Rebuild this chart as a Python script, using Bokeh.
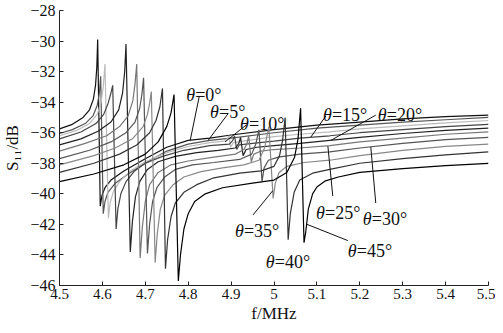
from bokeh.plotting import figure
from bokeh.models import FixedTicker, ColumnDataSource
from bokeh.core.properties import value
from bokeh.embed import file_html
from bokeh.resources import INLINE

# ---- ticks ----
x_ticks = [4.5, 4.6, 4.7, 4.8, 4.9, 5.0, 5.1, 5.2, 5.3, 5.4, 5.5]
x_tick_labels = ["4.5", "4.6", "4.7", "4.8", "4.9", "5", "5.1", "5.2", "5.3", "5.4", "5.5"]
y_ticks = [-46, -44, -42, -40, -38, -36, -34, -32, -30, -28]
y_tick_labels = ["\u221246", "\u221244", "\u221242", "\u221240", "\u221238", "\u221236", "\u221234", "\u221232", "\u221230", "\u221228"]

# ---- data: S11 (dB) vs f (MHz) for each angle ----
thetas = [0, 5, 10, 15, 20, 25, 30, 35, 40, 45]

f_t0 = [4.50, 4.53, 4.555, 4.57, 4.579, 4.584, 4.587, 4.589, 4.595, 4.599, 4.606, 4.62, 4.65, 4.70, 4.75, 4.80, 4.85, 4.90, 5.00, 5.10, 5.20, 5.30, 5.40, 5.50]
s_t0 = [-35.75, -35.45, -35.0, -34.5, -33.8, -32.9, -31.7, -29.9, -40.8, -40.1, -39.6, -39.1, -38.5, -37.7, -36.95, -36.5, -36.35, -36.15, -35.8, -35.5, -35.3, -35.1, -34.95, -34.85]

f_t5 = [4.50, 4.53, 4.56, 4.578, 4.588, 4.593, 4.596, 4.602, 4.606, 4.613, 4.63, 4.66, 4.70, 4.75, 4.80, 4.85, 4.90, 5.00, 5.10, 5.20, 5.30, 5.40, 5.50]
s_t5 = [-36.05, -35.8, -35.4, -34.9, -34.2, -33.4, -32.3, -41.3, -40.5, -39.9, -39.3, -38.7, -38.0, -37.2, -36.75, -36.5, -36.35, -36.0, -35.7, -35.5, -35.3, -35.15, -35.0]

f_t10 = [4.50, 4.54, 4.57, 4.588, 4.597, 4.602, 4.606, 4.614, 4.618, 4.625, 4.64, 4.665, 4.70, 4.75, 4.80, 4.85, 4.884, 4.891, 4.895, 4.899, 4.905, 4.94, 5.00, 5.06, 5.13, 5.20, 5.30, 5.40, 5.50]
s_t10 = [-36.2, -35.85, -35.4, -34.8, -34.0, -33.0, -31.5, -41.6, -40.6, -39.9, -39.2, -38.5, -37.9, -37.3, -36.9, -36.65, -36.55, -36.4, -36.2, -36.95, -36.65, -36.5, -36.25, -36.1, -35.95, -35.75, -35.55, -35.35, -35.2]

f_t15 = [4.50, 4.55, 4.585, 4.603, 4.613, 4.619, 4.624, 4.632, 4.636, 4.643, 4.655, 4.675, 4.70, 4.74, 4.79, 4.85, 4.896, 4.904, 4.908, 4.913, 4.919, 4.95, 5.00, 5.06, 5.13, 5.20, 5.30, 5.40, 5.50]
s_t15 = [-36.4, -35.95, -35.4, -34.8, -34.1, -33.5, -32.9, -42.3, -41.0, -40.0, -39.2, -38.5, -38.0, -37.55, -37.15, -36.85, -36.75, -36.5, -36.2, -37.1, -36.8, -36.7, -36.55, -36.35, -36.2, -36.0, -35.8, -35.6, -35.45]

f_t20 = [4.50, 4.55, 4.59, 4.62, 4.638, 4.647, 4.652, 4.655, 4.665, 4.67, 4.677, 4.687, 4.705, 4.73, 4.77, 4.82, 4.87, 4.91, 4.918, 4.922, 4.928, 4.935, 4.96, 5.00, 5.06, 5.13, 5.20, 5.30, 5.40, 5.50]
s_t20 = [-36.8, -36.4, -35.9, -35.3, -34.5, -33.4, -32.0, -30.2, -43.8, -41.8, -40.2, -39.2, -38.4, -37.9, -37.55, -37.3, -37.15, -37.0, -36.7, -36.3, -37.5, -37.1, -36.95, -36.85, -36.7, -36.5, -36.3, -36.05, -35.85, -35.7]

f_t25 = [4.50, 4.56, 4.61, 4.64, 4.66, 4.671, 4.676, 4.68, 4.688, 4.693, 4.70, 4.71, 4.73, 4.76, 4.80, 4.86, 4.91, 4.93, 4.937, 4.941, 4.947, 4.953, 4.97, 5.00, 5.06, 5.13, 5.20, 5.30, 5.40, 5.50]
s_t25 = [-37.2, -36.7, -36.2, -35.6, -34.9, -33.9, -32.8, -31.5, -44.2, -42.2, -40.5, -39.4, -38.6, -38.1, -37.85, -37.6, -37.4, -37.1, -36.7, -36.2, -37.9, -37.4, -37.2, -37.1, -37.0, -36.85, -36.6, -36.35, -36.1, -35.95]

f_t30 = [4.50, 4.57, 4.62, 4.655, 4.676, 4.687, 4.692, 4.696, 4.705, 4.71, 4.717, 4.727, 4.745, 4.77, 4.81, 4.86, 4.92, 4.948, 4.958, 4.965, 4.972, 4.977, 4.987, 5.01, 5.06, 5.13, 5.20, 5.30, 5.40, 5.50]
s_t30 = [-37.7, -37.15, -36.6, -36.0, -35.3, -34.4, -33.5, -32.4, -43.9, -42.0, -40.5, -39.6, -38.9, -38.4, -38.1, -37.95, -37.75, -37.4, -36.7, -35.8, -39.2, -38.3, -37.8, -37.6, -37.4, -37.25, -37.0, -36.7, -36.45, -36.3]

f_t35 = [4.50, 4.58, 4.63, 4.67, 4.695, 4.705, 4.71, 4.714, 4.723, 4.728, 4.735, 4.745, 4.765, 4.79, 4.83, 4.88, 4.93, 4.965, 4.978, 4.988, 4.998, 5.003, 5.012, 5.03, 5.07, 5.13, 5.20, 5.30, 5.40, 5.50]
s_t35 = [-38.1, -37.5, -37.0, -36.4, -35.6, -34.8, -34.1, -33.3, -44.5, -42.6, -41.0, -40.1, -39.4, -38.9, -38.55, -38.3, -38.1, -37.8, -37.0, -35.6, -40.3, -39.3, -38.6, -38.2, -37.95, -37.8, -37.5, -37.15, -36.9, -36.75]

f_t40 = [4.50, 4.58, 4.64, 4.68, 4.71, 4.725, 4.734, 4.74, 4.747, 4.752, 4.76, 4.77, 4.79, 4.82, 4.86, 4.92, 4.97, 5.00, 5.013, 5.02, 5.026, 5.033, 5.038, 5.047, 5.06, 5.09, 5.13, 5.20, 5.30, 5.40, 5.50]
s_t40 = [-38.6, -38.0, -37.4, -36.8, -36.0, -35.2, -34.3, -33.1, -44.9, -43.0, -41.5, -40.6, -39.9, -39.4, -38.95, -38.65, -38.5, -38.2, -37.5, -36.5, -35.0, -43.0, -41.3, -39.9, -39.1, -38.65, -38.4, -38.0, -37.7, -37.45, -37.25]

f_t45 = [4.50, 4.58, 4.65, 4.70, 4.73, 4.75, 4.76, 4.767, 4.777, 4.782, 4.79, 4.80, 4.815, 4.84, 4.88, 4.95, 5.00, 5.03, 5.048, 5.056, 5.062, 5.07, 5.074, 5.08, 5.09, 5.10, 5.12, 5.15, 5.20, 5.30, 5.40, 5.50]
s_t45 = [-39.2, -38.7, -38.1, -37.4, -36.6, -35.6, -34.7, -33.5, -45.7, -44.0, -42.3, -41.3, -40.5, -40.0, -39.6, -39.3, -39.1, -38.6, -37.6, -36.4, -34.4, -43.2, -42.5, -41.0, -40.0, -39.55, -39.15, -38.9, -38.6, -38.35, -38.15, -38.0]

series_f = [f_t0, f_t5, f_t10, f_t15, f_t20, f_t25, f_t30, f_t35, f_t40, f_t45]
series_s = [s_t0, s_t5, s_t10, s_t15, s_t20, s_t25, s_t30, s_t35, s_t40, s_t45]

# ---- styles ----
line_colors = ["#111111", "#555555", "#bbbbbb", "#444444", "#222222",
               "#777777", "#555555", "#888888", "#333333", "#000000"]

# ---- annotation layout (label anchor + leader line), data units ----
ann_text = ["=0\u00b0", "=5\u00b0", "=10\u00b0", "=15\u00b0", "=20\u00b0",
            "=25\u00b0", "=30\u00b0", "=35\u00b0", "=40\u00b0", "=45\u00b0"]
ann_x = [4.7953, 4.851, 4.921, 5.114, 5.242, 5.098, 5.207, 4.909, 4.981, 5.172]
ann_y = [-33.52, -34.62, -35.40, -34.82, -34.82, -41.25, -41.64, -42.42, -44.49, -43.71]
lead_x0 = [4.8256, 4.893, 4.935, 5.121, 5.2372, 5.137, 5.2372, 4.9512, 5.1721]
lead_y0 = [-33.65, -34.75, -35.5, -34.9, -34.85, -40.14, -40.6, -41.38, -43.06]
lead_x1 = [4.8047, 4.8465, 4.886, 5.086, 5.1326, 5.1256, 5.2256, 4.997, 5.077]
lead_y1 = [-36.5, -36.5, -36.6, -36.28, -36.5, -36.88, -36.93, -39.8, -42.0]

SERIF = "Liberation Serif"

p = figure(width=495, height=325, x_range=(4.5, 5.5), y_range=(-46, -28),
           output_backend="svg", toolbar_location=None,
           min_border_left=58, min_border_right=7, min_border_top=10, min_border_bottom=38)
p.xgrid.visible = False
p.ygrid.visible = False
p.outline_line_color = None
p.background_fill_color = "white"
p.border_fill_color = "white"

xa = p.xaxis[0]
ya = p.yaxis[0]
xa.ticker = FixedTicker(ticks=x_ticks, minor_ticks=[])
xa.major_label_overrides = dict(zip(x_ticks, x_tick_labels))
ya.ticker = FixedTicker(ticks=y_ticks, minor_ticks=[])
ya.major_label_overrides = dict(zip(y_ticks, y_tick_labels))
for ax in (xa, ya):
    ax.major_tick_in = 4
    ax.major_tick_out = 0
    ax.minor_tick_in = 0
    ax.minor_tick_out = 0
    ax.axis_line_color = "#222222"
    ax.major_tick_line_color = "#222222"
    ax.major_label_text_font = SERIF
    ax.major_label_text_color = "#111111"
    ax.axis_label_text_font = SERIF
    ax.axis_label_text_font_style = "normal"
    ax.axis_label_text_font_size = "17px"
    ax.axis_label_text_color = "#111111"
xa.major_label_text_font_size = "15px"
ya.major_label_text_font_size = "16px"
xa.major_label_standoff = 3
ya.major_label_standoff = 4
xa.axis_label = "f/MHz"
xa.axis_label_standoff = 2
ya.axis_label = "S\u2081\u2081/dB"
ya.axis_label_standoff = 5

for fs, ss, col in zip(series_f, series_s, line_colors):
    p.line(fs, ss, line_color=col, line_width=1.2)

# leaders
p.segment(x0=lead_x0, y0=lead_y0, x1=lead_x1, y1=lead_y1, line_color="#111111", line_width=1)

# annotation texts
src = ColumnDataSource(dict(x=ann_x, y=ann_y, t=ann_text, th=["\u03b8"] * len(ann_text)))
p.text(x="x", y="y", text="th", source=src, text_font=value(SERIF), text_font_style="italic",
       text_font_size="18px", text_color="#111111", text_baseline="alphabetic", text_align="left")
p.text(x="x", y="y", text="t", source=src, text_font=value(SERIF), x_offset=9,
       text_font_size="18px", text_color="#111111", text_baseline="alphabetic", text_align="left")

open("out.html", "w").write(file_html(p, INLINE))
